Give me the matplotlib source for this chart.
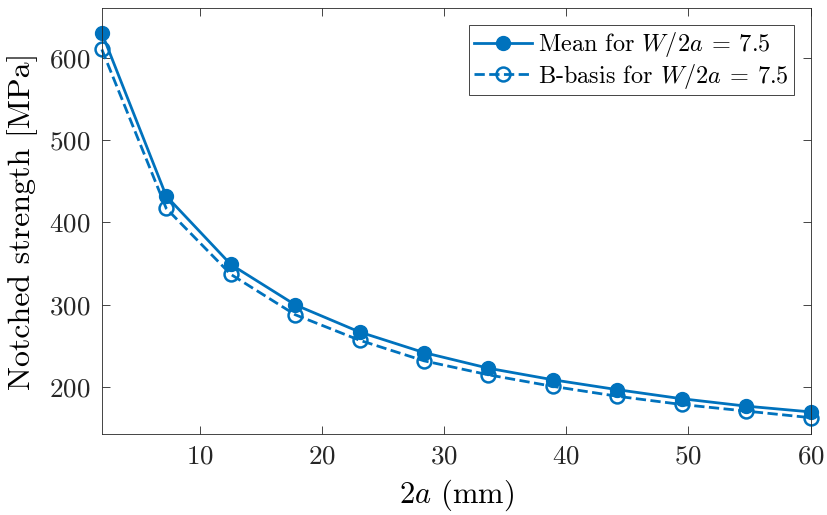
import matplotlib
matplotlib.use("Agg")
import matplotlib.pyplot as plt

# crack length 2a (mm) and notched strength (MPa)
crack_len = [2.0, 7.27, 12.55, 17.82, 23.09, 28.36, 33.64, 38.91, 44.18, 49.45, 54.73, 60.0]
mean_strength = [630, 432, 349, 300, 267, 242, 223, 209, 197, 186, 177, 170]
bbasis_strength = [610, 417, 337, 288, 257, 232, 215, 201, 189, 179, 171, 163]

plt.rcParams['font.family'] = 'serif'
plt.rcParams['font.serif'] = ['cmr10']
plt.rcParams['mathtext.fontset'] = 'cm'
plt.rcParams['axes.formatter.use_mathtext'] = True

blue = '#0072BD'

fig = plt.figure(figsize=(8.28, 5.15), dpi=100)
ax = fig.add_axes([0.123, 0.157, 0.856, 0.827])

ax.plot(crack_len, mean_strength, '-o', color=blue, lw=2, ms=10,
        mfc=blue, mec=blue, clip_on=False, label=r'Mean for $W/2a\:=\:7.5$')
ax.plot(crack_len, bbasis_strength, '--o', color=blue, lw=2, ms=10,
        mfc='none', mec=blue, mew=1.8, clip_on=False,
        label=r'B-basis for $W/2a\:=\:7.5$')

ax.set_xlim(2, 60)
ax.set_ylim(143, 660)
ax.set_xticks([10, 20, 30, 40, 50, 60])
ax.set_yticks([200, 300, 400, 500, 600])

ax.set_xlabel(r'$2a$ (mm)', fontsize=22, labelpad=6)
ax.set_ylabel('Notched strength [MPa]', fontsize=23, labelpad=8)

ax.tick_params(direction='in', top=True, right=True, labelsize=19.5,
               length=6, width=0.6, colors='#262626', pad=8)
for s in ax.spines.values():
    s.set_linewidth(0.6)
    s.set_color('#262626')

leg = ax.legend(loc='upper right', fontsize=17.5, handlelength=2.4,
                fancybox=False, framealpha=1, borderaxespad=0.7,
                handletextpad=0.25, labelspacing=0.1, borderpad=0.2)
leg.get_frame().set_edgecolor('#262626')
leg.get_frame().set_linewidth(0.6)

fig.savefig('out.png', dpi=100)
